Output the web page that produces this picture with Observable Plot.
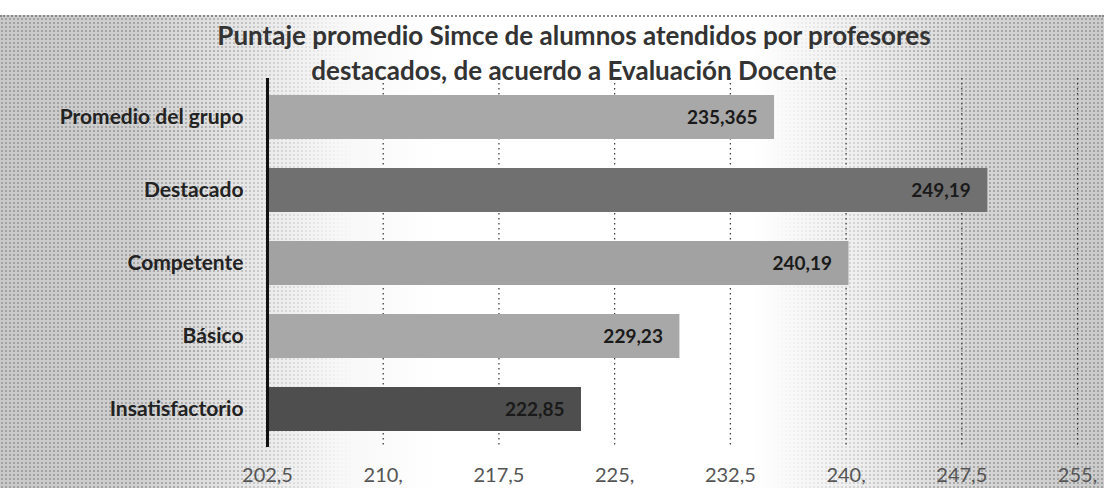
<!DOCTYPE html>
<html>
<head>
<meta charset="utf-8">
<script src="https://cdn.jsdelivr.net/npm/d3@7"></script>
<script src="https://cdn.jsdelivr.net/npm/@observablehq/plot@0.6"></script>
<style>
  html, body { margin: 0; padding: 0; background: #fff; }
  #wrap { position: relative; width: 1104px; height: 488px; overflow: hidden; background: #fff; }
  #bg { position: absolute; left: 0; top: 15px; width: 1104px; height: 473px;
        border-top: 2px dotted #888;
        background: linear-gradient(to right, #c9c9c9 0%, #cfcfcf 12%, #e6e6e6 22%, #f7f7f7 30%, #ffffff 40%, #ffffff 68%, #eeeeee 78%, #d6d6d6 88%, #cbcbcb 100%); }
  #dots { position: absolute; left: 0; top: 17px; width: 1104px; height: 471px; opacity: 0.4;
        background-image: radial-gradient(circle, #666 0.9px, transparent 1.3px);
        background-size: 4px 4px;
        -webkit-mask-image: linear-gradient(to right, #000 0%, #000 18%, transparent 32%, transparent 70%, #000 85%, #000 100%);
        mask-image: linear-gradient(to right, #000 0%, #000 18%, transparent 32%, transparent 70%, #000 85%, #000 100%); }
  #chart { position: absolute; left: 0; top: 0; }
  #title { position: absolute; left: 0; top: 18px; width: 1148px; text-align: center;
           font-family: Lato, "Open Sans", sans-serif; font-weight: bold; font-size: 26px;
           line-height: 35px; color: #333; }
</style>
</head>
<body>
<div id="wrap">
  <div id="bg"></div>
  <div id="dots"></div>
  <div id="chart"></div>
  <div id="title">Puntaje promedio Simce de alumnos atendidos por profesores<br>destacados, de acuerdo a Evaluación Docente</div>
</div>
<script>
const categories = ["Promedio del grupo", "Destacado", "Competente", "Básico", "Insatisfactorio"];
const values = [235.365, 249.19, 240.19, 229.23, 222.85];
const valueLabels = ["235,365", "249,19", "240,19", "229,23", "222,85"];
const tickValues = [202.5, 210, 217.5, 225, 232.5, 240, 247.5, 255];
const tickLabels = ["202,5", "210,", "217,5", "225,", "232,5", "240,", "247,5", "255,"];

const barColors = ["#a8a8a8", "#707070", "#a2a2a2", "#a8a8a8", "#4e4e4e"];

const rows = categories.map((c, i) => ({category: c, value: values[i], label: valueLabels[i]}));

const chart = Plot.plot({
  width: 1104,
  height: 488,
  marginLeft: 267,
  marginRight: 27,
  marginTop: 78,
  marginBottom: 41,
  style: {background: "transparent", overflow: "visible"},
  x: {domain: [202.5, 255], axis: null},
  y: {domain: categories, paddingInner: 0.4, paddingOuter: 0.2, axis: null},
  color: {domain: categories, range: barColors},
  marks: [
    Plot.ruleX(tickValues.slice(1), {stroke: "#333", strokeWidth: 1.2, strokeDasharray: "1.5,3.5"}),
    Plot.barX(rows, {x1: tickValues[0], x2: "value", y: "category", fill: "category"}),
    Plot.text(rows, {x: "value", y: "category", text: "label", textAnchor: "end", dx: -17,
      fontFamily: "Lato, sans-serif", fontWeight: "bold", fontSize: 19, fill: "#1a1a1a"}),
    Plot.ruleX([tickValues[0]], {stroke: "#111", strokeWidth: 3}),
    Plot.axisY({tickSize: 0, tickPadding: 24, fontFamily: "Lato, sans-serif", fontWeight: "bold",
      fontSize: 21, color: "#222", label: null}),
    Plot.axisX({ticks: tickValues, tickFormat: (d) => tickLabels[tickValues.indexOf(d)], tickSize: 0,
      tickPadding: 20, fontFamily: "Lato, sans-serif", fontSize: 20, color: "#555", label: null})
  ]
});
document.getElementById("chart").appendChild(chart);
</script>
</body>
</html>
